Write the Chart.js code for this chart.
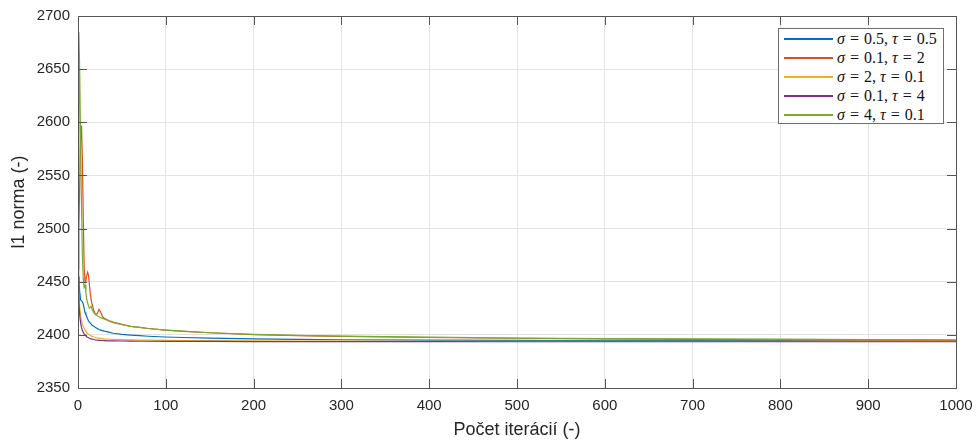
<!DOCTYPE html>
<html>
<head>
<meta charset="utf-8">
<script src="https://cdn.jsdelivr.net/npm/chart.js@4.4.1/dist/chart.umd.min.js"></script>
<style>
  body { margin: 0; background: #fff; }
  #wrap { position: relative; width: 977px; height: 441px; }
  #legend {
    position: absolute; left: 778px; top: 28px; width: 166px; height: 96px;
    border: 1px solid #6e6e6e; background: #fff;
    font-family: "Liberation Serif", "DejaVu Serif", serif; font-size: 16px; color: #111;
    padding-top: 0; box-sizing: border-box;
  }
  .row { height: 19px; position: relative; white-space: nowrap; line-height: 19px; padding-left: 58px; }
  .swatch { position: absolute; left: 5px; top: 9px; width: 49px; height: 2px; }
  .eq { margin: 0 5px; }
</style>
</head>
<body>
<div id="wrap">
  <canvas id="chart" width="977" height="441"></canvas>
  <div id="legend"></div>
</div>
<script>
const iters = [0, 1, 2, 3, 4, 5, 6, 7, 8, 9, 10, 11, 12, 13, 14, 15, 16, 18, 20, 22, 24, 26, 28, 30,
  35, 40, 50, 60, 70, 80, 100, 120, 150, 200, 250, 300, 400, 500, 600, 700, 800, 900, 1000];

const sigmas = ['0.5', '0.1', '2', '0.1', '4'];
const taus = ['0.5', '2', '0.1', '4', '0.1'];
const colors = ['#0072BD', '#D95319', '#EDB120', '#7E2F8E', '#77AC30'];

const normBlue = [2455, 2450, 2440, 2433, 2432, 2431, 2429, 2425, 2421, 2419, 2417, 2415, 2413, 2412,
  2411, 2410, 2409, 2408, 2407, 2406, 2405, 2404.5, 2404, 2403.5, 2402.5, 2401.5, 2400.5, 2399.8,
  2399.2, 2398.7, 2398, 2397.5, 2397, 2396.3, 2395.8, 2395.4, 2395, 2394.8, 2394.7, 2394.6, 2394.5,
  2394.4, 2394.3];
const normOrange = [2462, 2500, 2545, 2585, 2597, 2565, 2510, 2465, 2450, 2452, 2456, 2459, 2456, 2447,
  2439, 2433, 2429, 2423, 2419, 2420, 2424, 2421, 2417, 2415.5, 2413.5, 2412, 2410, 2408, 2407, 2406,
  2404.5, 2403.3, 2402, 2400.3, 2399.3, 2398.6, 2397.5, 2396.8, 2396.2, 2395.8, 2395.4, 2395.1, 2394.9];
const normYellow = [2462, 2440, 2426, 2418, 2413, 2410, 2408, 2406, 2404.5, 2403, 2402, 2401.3, 2400.6,
  2400, 2399.5, 2399, 2398.7, 2398, 2397.5, 2397.2, 2397, 2396.7, 2396.5, 2396.3, 2396, 2395.8, 2395.5,
  2395.3, 2395.1, 2395, 2394.8, 2394.6, 2394.5, 2394.3, 2394.2, 2394.1, 2394, 2394, 2393.9, 2393.9,
  2393.9, 2393.8, 2393.8];
const normPurple = [2455, 2430, 2418, 2411, 2407, 2404, 2402.5, 2401, 2400, 2399, 2398.3, 2397.7, 2397.2,
  2396.8, 2396.5, 2396.2, 2396, 2395.6, 2395.3, 2395.1, 2394.9, 2394.8, 2394.7, 2394.6, 2394.4, 2394.3,
  2394.2, 2394.1, 2394, 2394, 2393.9, 2393.8, 2393.8, 2393.7, 2393.7, 2393.6, 2393.6, 2393.5, 2393.5,
  2393.5, 2393.5, 2393.5, 2393.5];
const normGreen = [2555, 2685, 2645, 2580, 2520, 2475, 2452, 2445, 2447, 2440, 2433, 2430, 2427, 2425,
  2426, 2427, 2424, 2421, 2419, 2418, 2417, 2416, 2415.5, 2415, 2413, 2411.5, 2409.5, 2408, 2407, 2406,
  2404.5, 2403.5, 2402, 2400.5, 2399.5, 2398.8, 2397.8, 2397, 2396.5, 2396.2, 2395.9, 2395.6, 2395.4];

const series = [normBlue, normOrange, normYellow, normPurple, normGreen];

const yTicks = [2350, 2400, 2450, 2500, 2550, 2600, 2650, 2700];
const xTicks = [0, 100, 200, 300, 400, 500, 600, 700, 800, 900, 1000];

// --- legend (html) ---
const legend = document.getElementById('legend');
series.forEach((s, i) => {
    const row = document.createElement('div');
    row.className = 'row';
    row.innerHTML = '<span class="swatch" style="background-color:' + colors[i] + '"></span>' +
        '<i>σ</i><span class="eq">=</span>' + sigmas[i] + ', <i>τ</i><span class="eq">=</span>' + taus[i];
    legend.appendChild(row);
});

// MATLAB style box and inward ticks
const boxPlugin = {
    id: 'boxTicks',
    afterDraw(chart) {
        const ctx = chart.ctx;
        const a = chart.chartArea;
        const xs = chart.scales.x, ys = chart.scales.y;
        const len = 9;
        ctx.save();
        ctx.strokeStyle = '#555';
        ctx.lineWidth = 1;
        ctx.beginPath();
        xTicks.forEach(v => {
            const px = Math.round(xs.getPixelForValue(v)) + 0.5;
            ctx.moveTo(px, a.bottom); ctx.lineTo(px, a.bottom - len);
            ctx.moveTo(px, a.top); ctx.lineTo(px, a.top + len);
        });
        yTicks.forEach(v => {
            const py = Math.round(ys.getPixelForValue(v)) + 0.5;
            ctx.moveTo(a.left, py); ctx.lineTo(a.left + len, py);
            ctx.moveTo(a.right, py); ctx.lineTo(a.right - len, py);
        });
        ctx.stroke();
        ctx.strokeRect(Math.round(a.left) + 0.5, Math.round(a.top) + 0.5,
            Math.round(a.right - a.left), Math.round(a.bottom - a.top));
        ctx.restore();
    }
};

Chart.defaults.font.family = '"Liberation Sans", Arial, sans-serif';
Chart.defaults.color = '#262626';

new Chart(document.getElementById('chart').getContext('2d'), {
    type: 'line',
    data: {
        labels: iters,
        datasets: series.map((s, i) => ({
            label: 'σ = ' + sigmas[i] + ', τ = ' + taus[i],
            data: iters.map((it, k) => ({ x: it, y: s[k] })),
            borderColor: colors[i],
            borderWidth: 1.2,
            pointRadius: 0,
            tension: 0,
            fill: false,
            order: series.length - i
        }))
    },
    options: {
        responsive: false,
        animation: false,
        layout: { padding: { top: 16, right: 21, left: 0, bottom: 0 } },
        plugins: { legend: { display: false }, tooltip: { enabled: false } },
        scales: {
            x: {
                type: 'linear', min: 0, max: 1000,
                afterBuildTicks: s => { s.ticks = xTicks.map(v => ({ value: v })); },
                afterFit: s => { s.height = 53; s.paddingLeft = 0; s.paddingRight = 0; },
                grid: { color: '#e3e3e3', drawTicks: false },
                border: { display: false },
                ticks: { padding: 9, font: { size: 15 }, maxRotation: 0, callback: v => String(v) },
                title: { display: true, text: 'Počet iterácií (-)', font: { size: 18 }, padding: { top: 0, bottom: 0 } }
            },
            y: {
                type: 'linear', min: 2350, max: 2700,
                afterBuildTicks: s => { s.ticks = yTicks.map(v => ({ value: v })); },
                afterFit: s => { s.width = 78; s.paddingTop = 0; s.paddingBottom = 0; },
                grid: { color: '#e3e3e3', drawTicks: false },
                border: { display: false },
                ticks: { padding: 8, font: { size: 15 }, callback: v => String(v) },
                title: { display: true, text: 'l1 norma (-)', font: { size: 18 }, padding: { top: 8, bottom: 0 } }
            }
        }
    },
    plugins: [boxPlugin]
});
</script>
</body>
</html>
